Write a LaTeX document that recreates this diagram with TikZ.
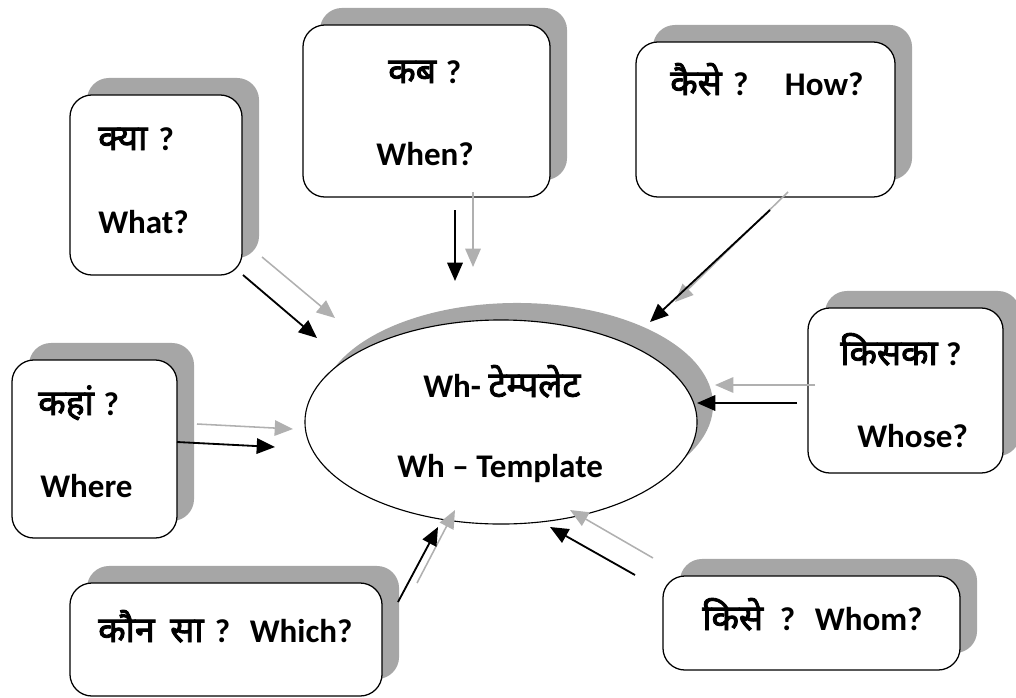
\documentclass[tikz,border=0pt]{standalone}
\usepackage{fontspec}
\setmainfont{Carlito}
\newfontfamily\hindi[Script=Devanagari, Scale=1.08, AutoFakeBold=2.5]{Noto Sans}
\usepackage{tikz}
\usetikzlibrary{positioning, calc}
\usetikzlibrary{shapes.geometric}
\usetikzlibrary{shadows}
\usetikzlibrary{arrows.meta}

\definecolor{shadowgray}{RGB}{166,166,166}
\definecolor{arrowgray}{RGB}{176,176,176}

\tikzset{
  qbox/.style={draw, line width=0.9pt, rounded corners=0.55cm, fill=white, inner sep=0pt,
    copy shadow={shadow xshift=0.425cm, shadow yshift=0.425cm, fill=shadowgray, draw=none}},
  qell/.style={ellipse, draw, line width=0.8pt, fill=white, inner sep=0pt,
    copy shadow={shadow xshift=0.4cm, shadow yshift=0.425cm, fill=shadowgray, draw=none}},
  qtext/.style={inner sep=0pt, anchor=base west, font=\fontsize{23.5}{28}\selectfont\bfseries},
  blk/.style={-{Triangle[length=13pt,width=11pt]}, line width=1.3pt},
  gry/.style={blk, draw=arrowgray, line width=1.1pt},
}

\begin{document}
\begin{tikzpicture}[x=0.025cm, y=-0.025cm]
  \useasboundingbox (0,0) rectangle (1016,697);

  % boxes
  \node[qbox, minimum width=4.3cm, minimum height=4.5cm] (what) at (156,185) {};
  \node[qbox, minimum width=6.175cm, minimum height=4.3cm] (when) at (426.5,111) {};
  \node[qbox, minimum width=6.475cm, minimum height=3.875cm] (how) at (765.5,119.5) {};
  \node[qbox, minimum width=4.125cm, minimum height=4.45cm] (where) at (94.5,449) {};
  \node[qbox, minimum width=4.875cm, minimum height=4.125cm] (whose) at (905.5,390.5) {};
  \node[qbox, minimum width=7.8cm, minimum height=2.825cm] (which) at (226,639.5) {};
  \node[qbox, minimum width=7.425cm, minimum height=2.35cm] (whom) at (811.5,623) {};
  \node[qell, minimum width=9.8cm, minimum height=5.1cm] (tmpl) at (501,422) {};

  % texts
  \node[qtext] (whatHi) at (98,150) {{\hindi क्या}\hspace{8pt}?};
  \node[qtext] (whatEn) at (98,233) {What?};
  \node[qtext] (whenHi) at (388,83) {{\hindi कब}\hspace{7pt}?};
  \node[qtext, anchor=base] (whenEn) at (425,165) {When?};
  \node[qtext] (howTx) at (670,95) {{\hindi कैसे}\hspace{8pt}?\hspace{26pt}How?};
  \node[qtext] (whereHi) at (38,415) {{\hindi कहां}\hspace{7pt}?};
  \node[qtext] (whereEn) at (40,497) {Where};
  \node[qtext] (whoseHi) at (840,365) {{\hindi किसका}\hspace{6pt}?};
  \node[qtext] (whoseEn) at (857,447) {Whose?};
  \node[qtext] (whichTx) at (98,642) {{\hindi कौन}\hspace{11pt}{\hindi सा}\hspace{8pt}?\hspace{14pt}Which?};
  \node[qtext] (whomTx) at (702,630) {{\hindi किसे}\hspace{12pt}?\hspace{14pt}Whom?};
  \node[qtext] (tmplHi) at (423,397) {Wh- {\hindi टेम्पलेट}};
  \node[qtext] (tmplEn) at (397,477) {Wh -- Template};

  % arrow ends
  \coordinate (whatGs) at (262,257);  \coordinate (whatGe) at (335,318);
  \coordinate (whatBs) at (243,275);  \coordinate (whatBe) at (317,338);
  \coordinate (whenGs) at (473,192);  \coordinate (whenGe) at (473,267);
  \coordinate (whenBs) at (455,210);  \coordinate (whenBe) at (455,281);
  \coordinate (howGs) at (788,192);   \coordinate (howGe) at (675,302);
  \coordinate (howBs) at (770,210);   \coordinate (howBe) at (650,322);
  \coordinate (whoseGs) at (815,385); \coordinate (whoseGe) at (715,385);
  \coordinate (whoseBs) at (797,403); \coordinate (whoseBe) at (697,403);
  \coordinate (whereGs) at (197,424); \coordinate (whereGe) at (293,429);
  \coordinate (whereBs) at (177,442); \coordinate (whereBe) at (275,447);
  \coordinate (whichGs) at (417,583); \coordinate (whichGe) at (455,510);
  \coordinate (whichBs) at (398,602); \coordinate (whichBe) at (438,527);
  \coordinate (whomGs) at (653,558);  \coordinate (whomGe) at (570,510);
  \coordinate (whomBs) at (635,575);  \coordinate (whomBe) at (550,527);

  \foreach \n in {what,when,how,whose,where,which,whom} {
    \draw[gry] (\n Gs) -- (\n Ge);
    \draw[blk] (\n Bs) -- (\n Be);
  }
\end{tikzpicture}
\end{document}
